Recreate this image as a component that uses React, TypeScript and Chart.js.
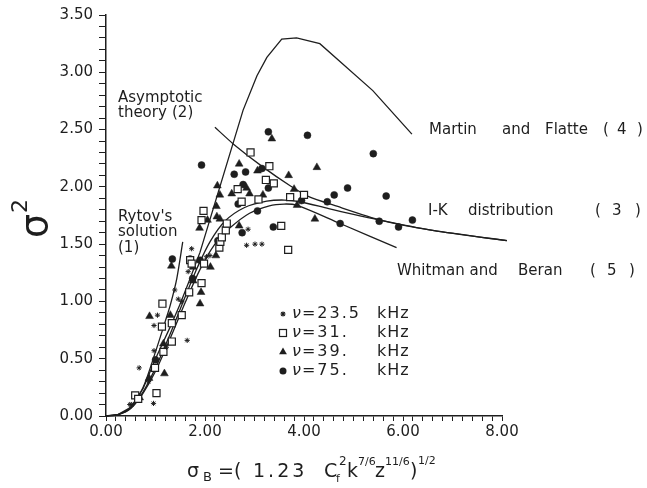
import React, { useEffect, useRef } from 'react';
import { Chart, registerables } from 'chart.js';

Chart.register(...registerables);

const INK = '#1e1e1e';
const FONT = '"DejaVu Sans", sans-serif';

type Pt = [number, number];

// ---- theory curves (x = sigma_B, y = sigma^2) ----
const rytovCurve: Pt[] = [
  [0, 0], [0.25, 0.015], [0.5, 0.08], [0.75, 0.25], [1.0, 0.56], [1.2, 0.83], [1.3, 0.97], [1.43, 1.2], [1.55, 1.52],
];
const asymptoticCurve: Pt[] = [
  [2.2, 2.52], [2.57, 2.375], [3.18, 2.17], [3.72, 2.01], [4.12, 1.91], [4.6, 1.84], [5.54, 1.71], [6.6, 1.62], [8.1, 1.53],
];
const ikCurve: Pt[] = [
  [0, 0], [0.25, 0.013], [0.5, 0.07], [0.75, 0.21], [1.0, 0.42], [1.3, 0.72], [1.6, 1.04], [1.85, 1.3], [2.1, 1.52], [2.4, 1.7],
  [2.8, 1.82], [3.25, 1.875], [3.6, 1.885], [3.92, 1.87], [4.5, 1.81], [5.0, 1.76], [5.54, 1.71], [6.6, 1.62], [8.1, 1.53],
];
const martinFlatteCurve: Pt[] = [
  [0, 0], [0.25, 0.014], [0.5, 0.075], [0.75, 0.24], [1.0, 0.5], [1.3, 0.78], [1.5, 0.98], [1.7, 1.2], [1.9, 1.43], [2.3, 2.0],
  [2.77, 2.67], [3.05, 2.97], [3.25, 3.13], [3.55, 3.29], [3.85, 3.3], [4.32, 3.25], [5.39, 2.84], [6.18, 2.46],
];
const whitmanBeranCurve: Pt[] = [
  [0, 0], [0.25, 0.012], [0.5, 0.065], [0.75, 0.2], [1.0, 0.39], [1.3, 0.68], [1.6, 0.99], [1.9, 1.28], [2.2, 1.5], [2.5, 1.64],
  [2.9, 1.77], [3.3, 1.835], [3.6, 1.85], [3.85, 1.84], [4.73, 1.68], [5.87, 1.47],
];

// ---- measurements ----
const nu23_5: Pt[] = [
  [0.48, 0.1], [0.52, 0.1], [0.67, 0.42], [0.96, 0.11], [0.97, 0.57], [0.97, 0.79], [1.04, 0.88], [1.39, 1.1],
  [1.46, 1.02], [1.53, 1.0], [1.64, 0.66], [1.66, 1.26], [1.73, 1.46], [2.03, 1.39], [2.1, 1.4], [2.87, 1.63],
  [2.84, 1.49], [3.01, 1.5], [3.15, 1.5], [1.22, 0.6], [0.86, 0.3],
];
const nu31: Pt[] = [
  [0.59, 0.18], [0.65, 0.15], [1.02, 0.2], [0.99, 0.42], [1.14, 0.98], [1.13, 0.78], [1.33, 0.81], [1.33, 0.65],
  [1.16, 0.56], [1.53, 0.88], [1.68, 1.08], [1.7, 1.36], [1.73, 1.33], [1.93, 1.16], [1.98, 1.33], [1.97, 1.79],
  [1.93, 1.71], [2.29, 1.47], [2.31, 1.52], [2.34, 1.56], [2.42, 1.62], [2.44, 1.68], [2.66, 1.98], [2.74, 1.87],
  [2.92, 2.3], [3.08, 1.89], [3.23, 2.06], [3.3, 2.18], [3.39, 2.03], [3.54, 1.66], [3.68, 1.45], [3.72, 1.91], [4.0, 1.93],
];
const nu39: Pt[] = [
  [0.68, 0.16], [0.87, 0.33], [0.88, 0.87], [1.16, 0.63], [1.18, 0.37], [1.3, 0.88], [1.32, 1.31], [1.76, 1.18],
  [1.76, 1.3], [1.9, 0.98], [1.92, 1.08], [1.89, 1.64], [2.11, 1.3], [2.05, 1.71], [2.22, 1.4], [2.24, 1.74],
  [2.3, 1.72], [2.23, 1.83], [2.25, 2.01], [2.3, 1.93], [2.54, 1.94], [2.69, 2.2], [2.69, 1.66], [2.84, 1.99],
  [2.9, 1.94], [3.06, 2.14], [3.17, 1.93], [3.35, 2.42], [3.69, 2.1], [3.8, 1.98], [3.86, 1.84], [4.22, 1.72], [4.26, 2.17],
];
const nu75: Pt[] = [
  [1.0, 0.49], [1.34, 1.37], [1.75, 1.2], [1.7, 1.37], [1.9, 1.36], [1.93, 2.19], [2.26, 1.53], [2.59, 2.11],
  [2.67, 1.85], [2.75, 1.6], [2.77, 2.02], [2.82, 2.13], [3.06, 1.79], [3.15, 2.16], [3.28, 1.99], [3.28, 2.48],
  [3.38, 1.65], [3.95, 1.88], [4.07, 2.45], [4.47, 1.87], [4.61, 1.93], [4.73, 1.68], [4.88, 1.99], [5.4, 2.29],
  [5.52, 1.7], [5.66, 1.92], [5.91, 1.65], [6.19, 1.71],
];

const legendValues = ['23.5', '31.', '39.', '75.'];
const legendUnit = 'kHz';
const xRange: Pt = [0, 8];
const yRange: Pt = [0, 3.5];

const seriesStyles = ['star', 'rect', 'triangle', 'circle'];

const toXY = (a: Pt[]) => a.map(([x, y]) => ({ x, y }));

const annotationTexts: { t: string; x: number; y: number }[] = [
  { t: 'Asymptotic', x: 118, y: 98 },
  { t: 'theory', x: 118, y: 113 },
  { t: '(2)', x: 172, y: 113 },
  { t: "Rytov's", x: 118, y: 217 },
  { t: 'solution', x: 118, y: 232 },
  { t: '(1)', x: 118, y: 248 },
  { t: 'Martin', x: 429, y: 130 },
  { t: 'and', x: 502, y: 130 },
  { t: 'Flatte', x: 545, y: 130 },
  { t: '(', x: 603, y: 130 },
  { t: '4', x: 617, y: 130 },
  { t: ')', x: 637, y: 130 },
  { t: 'I-K', x: 428, y: 211 },
  { t: 'distribution', x: 468, y: 211 },
  { t: '(', x: 595, y: 211 },
  { t: '3', x: 612, y: 211 },
  { t: ')', x: 635, y: 211 },
  { t: 'Whitman and', x: 397, y: 271 },
  { t: 'Beran', x: 518, y: 271 },
  { t: '(', x: 590, y: 271 },
  { t: '5', x: 607, y: 271 },
  { t: ')', x: 629, y: 271 },
];

const xTitlePieces = [
  { t: 'σ', x: 187, y: 477, s: 19 },
  { t: 'B', x: 203, y: 481, s: 13 },
  { t: '=', x: 218, y: 477, s: 19 },
  { t: '(', x: 234, y: 477, s: 19 },
  { t: '1.23', x: 253, y: 477, s: 19, ls: 3 },
  { t: 'C', x: 324, y: 477, s: 19 },
  { t: 'f', x: 336, y: 482, s: 11 },
  { t: '2', x: 339, y: 465, s: 12 },
  { t: 'k', x: 347, y: 477, s: 19 },
  { t: '7/6', x: 358, y: 465, s: 11 },
  { t: 'z', x: 375, y: 477, s: 19 },
  { t: '11/6', x: 385, y: 465, s: 11 },
  { t: ')', x: 410, y: 477, s: 19 },
  { t: '1/2', x: 418, y: 464, s: 11 },
];

function drawMarker(ctx: CanvasRenderingContext2D, style: string, x: number, y: number) {
  ctx.save();
  ctx.strokeStyle = INK;
  ctx.fillStyle = INK;
  ctx.lineWidth = 1.2;
  if (style === 'star') {
    const r = 2.6;
    ctx.beginPath();
    for (let k = 0; k < 4; k++) {
      const a = (k * Math.PI) / 4;
      ctx.moveTo(x - Math.cos(a) * r, y - Math.sin(a) * r);
      ctx.lineTo(x + Math.cos(a) * r, y + Math.sin(a) * r);
    }
    ctx.stroke();
  } else if (style === 'rect') {
    ctx.fillStyle = '#fff';
    ctx.fillRect(x - 3.5, y - 3.5, 7, 7);
    ctx.strokeRect(x - 3.5, y - 3.5, 7, 7);
  } else if (style === 'triangle') {
    const r = 4.5;
    ctx.beginPath();
    ctx.moveTo(x, y - r);
    ctx.lineTo(x - r * Math.sin(Math.PI / 3), y + r / 2);
    ctx.lineTo(x + r * Math.sin(Math.PI / 3), y + r / 2);
    ctx.closePath();
    ctx.fill();
  } else {
    ctx.beginPath();
    ctx.arc(x, y, 3.5, 0, Math.PI * 2);
    ctx.fill();
  }
  ctx.restore();
}

const overlayPlugin = {
  id: 'overlayText',
  afterDraw(chart: any) {
    const ctx: CanvasRenderingContext2D = chart.ctx;
    ctx.save();
    ctx.fillStyle = INK;
    ctx.textAlign = 'left';

    // annotations
    ctx.textBaseline = 'middle';
    ctx.font = `15px ${FONT}`;
    for (const a of annotationTexts) ctx.fillText(a.t, a.x, a.y);

    // legend
    const rows = [314, 333, 352, 371];
    legendValues.forEach((v, i) => {
      const y = rows[i];
      drawMarker(ctx, seriesStyles[i], 283, y);
      ctx.fillStyle = INK;
      ctx.font = `italic 16px ${FONT}`;
      (ctx as any).letterSpacing = '0px';
      ctx.fillText('ν', 292, y);
      const w = ctx.measureText('ν').width;
      ctx.font = `16px ${FONT}`;
      (ctx as any).letterSpacing = '2px';
      ctx.fillText('=' + v, 292 + w + 1, y);
      (ctx as any).letterSpacing = '1px';
      ctx.fillText(legendUnit, 377, y);
      (ctx as any).letterSpacing = '0px';
    });

    // x title
    ctx.textBaseline = 'alphabetic';
    for (const p of xTitlePieces) {
      ctx.font = `${p.s}px ${FONT}`;
      (ctx as any).letterSpacing = `${(p as any).ls || 0}px`;
      ctx.fillText(p.t, p.x, p.y);
    }
    (ctx as any).letterSpacing = '0px';

    // y title (rotated)
    ctx.save();
    ctx.translate(47, 238);
    ctx.rotate(-Math.PI / 2);
    ctx.font = `38px ${FONT}`;
    ctx.fillText('σ', 0, 0);
    ctx.font = `22px ${FONT}`;
    ctx.fillText('2', 25, -20);
    ctx.restore();

    ctx.restore();
  },
};

const curveDs = (data: Pt[], tension: number) => ({
  data: toXY(data),
  showLine: true,
  borderColor: INK,
  borderWidth: 1.3,
  pointRadius: 0,
  fill: false,
  tension,
  clip: false as any,
});

export default function App() {
  const ref = useRef<HTMLCanvasElement | null>(null);

  useEffect(() => {
    if (!ref.current) return;
    const chart = new Chart(ref.current, {
      type: 'scatter',
      data: {
        datasets: [
          {
            data: toXY(nu23_5), pointStyle: 'star', pointRadius: 2.6, borderColor: INK, borderWidth: 1, backgroundColor: INK,
          },
          {
            data: toXY(nu31), pointStyle: 'rect', pointRadius: 5, borderColor: INK, borderWidth: 1.2, backgroundColor: '#ffffff',
          },
          {
            data: toXY(nu39), pointStyle: 'triangle', pointRadius: 4.5, borderColor: INK, borderWidth: 0.5, backgroundColor: INK,
          },
          {
            data: toXY(nu75), pointStyle: 'circle', pointRadius: 3.5, borderColor: INK, borderWidth: 0.5, backgroundColor: INK,
          },
          curveDs(rytovCurve, 0.3),
          curveDs(asymptoticCurve, 0.2),
          curveDs(ikCurve, 0.3),
          curveDs(martinFlatteCurve, 0),
          curveDs(whitmanBeranCurve, 0.3),
        ] as any,
      },
      options: {
        animation: false,
        responsive: false,
        maintainAspectRatio: false,
        events: [],
        layout: { padding: { left: 0, right: 145, top: 13, bottom: 0 } },
        plugins: { legend: { display: false }, tooltip: { enabled: false } },
        scales: {
          x: {
            type: 'linear',
            min: xRange[0],
            max: xRange[1],
            afterFit: (s: any) => { s.height = 72; },
            ticks: {
              stepSize: 0.2,
              autoSkip: false,
              maxRotation: 0,
              padding: 2,
              color: INK,
              font: { family: FONT, size: 15 },
              callback: (v: any) => {
                const n = Number(v);
                return Math.abs(n / 2 - Math.round(n / 2)) < 1e-6 ? n.toFixed(2) : '';
              },
            },
            grid: { drawOnChartArea: false, drawTicks: true, tickLength: 5, color: INK, lineWidth: 1 },
            border: { display: true, color: INK, width: 1.5 },
          },
          y: {
            type: 'linear',
            min: yRange[0],
            max: yRange[1],
            afterFit: (s: any) => { s.width = 106; },
            ticks: {
              stepSize: 0.1,
              autoSkip: false,
              padding: 6,
              color: INK,
              font: { family: FONT, size: 15 },
              callback: (v: any) => {
                const n = Number(v);
                return Math.abs(n * 2 - Math.round(n * 2)) < 1e-6 ? n.toFixed(2) : '';
              },
            },
            grid: { drawOnChartArea: false, drawTicks: true, tickLength: 7, color: INK, lineWidth: 1 },
            border: { display: true, color: INK, width: 1.5 },
          },
        },
      } as any,
      plugins: [overlayPlugin],
    });
    return () => chart.destroy();
  }, []);

  return (
    <div style={{ position: 'fixed', left: 0, top: 0, width: 647, height: 488, background: '#fff' }}>
      <canvas ref={ref} width={647} height={488} style={{ width: 647, height: 488, display: 'block' }} />
    </div>
  );
}
